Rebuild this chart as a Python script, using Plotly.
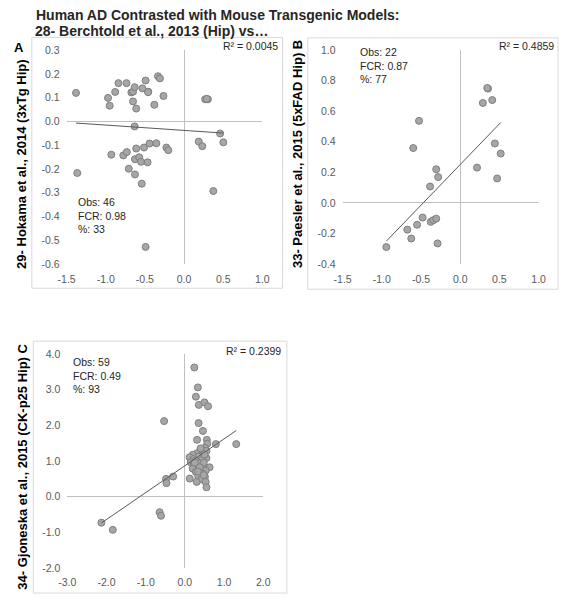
import plotly.graph_objects as go

W, H = 566, 600

# ---------------- data ----------------
a_x = [-1.380, -1.364, -0.971, -0.950, -0.929, -0.880, -0.838, -0.776, -0.735, -0.731,
       -0.706, -0.673, -0.652, -0.652, -0.631, -0.631, -0.627, -0.627, -0.611, -0.611,
       -0.573, -0.549, -0.540, -0.532, -0.511, -0.491, -0.491, -0.466, -0.457, -0.441,
       -0.379, -0.354, -0.333, -0.308, -0.263, -0.226, -0.201, 0.188, 0.233, 0.270,
       0.304, 0.374, 0.461, 0.502, 0.290, -0.460]
a_y = [0.120, -0.217, 0.099, 0.066, -0.140, 0.124, 0.161, -0.143, 0.161, -0.129,
       -0.199, 0.122, 0.125, 0.084, 0.144, -0.021, -0.159, -0.223, 0.054, -0.114,
       -0.151, -0.170, -0.262, 0.139, -0.110, 0.172, -0.528, -0.172, 0.125, -0.093,
       0.070, -0.092, 0.190, 0.181, 0.107, -0.110, -0.121, -0.085, -0.104, 0.093,
       0.093, -0.293, -0.051, -0.088, 0.095, 0.123]

b_x = [-0.942, -0.674, -0.624, -0.599, -0.550, -0.525, -0.479, -0.384, -0.376, -0.343,
       -0.306, -0.306, -0.289, -0.281, 0.215, 0.289, 0.355, 0.409, 0.442, 0.471,
       0.517, 0.345]
b_y = [-0.289, -0.175, -0.233, 0.359, -0.143, 0.537, -0.096, 0.107, -0.124, -0.113,
       -0.103, 0.220, -0.265, 0.169, 0.231, 0.654, 0.748, 0.673, 0.389, 0.160,
       0.323, 0.752]

c_x = [-2.13, -1.84, -0.645, -0.61, -0.53, -0.48, -0.47, -0.30, 0.124, 0.24,
       0.28, 0.33, 0.35, 0.355, 0.50, 0.59, 0.46, 0.31, 0.56, 0.79,
       1.31,
       0.57, 0.51, 0.45, 0.38, 0.55, 0.30, 0.20, 0.42, 0.34, 0.12,
       0.22, 0.55, 0.28, 0.45, 0.15, 0.36, 0.22, 0.46, 0.63, 0.31,
       0.20, 0.40, 0.53, 0.28, 0.45, 0.34, 0.51, 0.42, 0.30, 0.53,
       0.55, 0.40, 0.25, 0.48, 0.38, 0.50, 0.33, 0.48]
c_y = [-0.733, -0.934, -0.44, -0.54, 2.115, 0.495, 0.375, 0.56, 0.504, 3.62,
       2.80, 3.06, 2.06, 2.57, 2.64, 2.53, 1.84, 1.59, 1.59, 1.47,
       1.47,
       1.48, 1.37, 1.30, 1.26, 1.28, 1.21, 1.17, 1.15, 1.12, 1.10,
       1.05, 1.08, 1.01, 1.03, 0.96, 0.93, 0.87, 0.87, 0.82, 0.82,
       0.78, 0.75, 0.73, 0.69, 0.64, 0.57, 0.55, 0.48, 0.41, 0.41,
       0.26, 1.35, 0.95, 0.95, 0.82, 1.18, 0.70, 0.60]

# trendline coefficients (slope, intercept) as shown on the chart
a_trend = (-0.0224, -0.0378)
b_trend = (0.532, 0.251)
c_trend = (0.754, 0.864)

a_stats = ["Obs: 46", "FCR: 0.98", "%: 33"]
b_stats = ["Obs: 22", "FCR: 0.87", "%: 77"]
c_stats = ["Obs: 59", "FCR: 0.49", "%: 93"]
a_r2, b_r2, c_r2 = "R² = 0.0045", "R² = 0.4859", "R² = 0.2399"

title_lines = ["Human AD Contrasted with Mouse Transgenic Models:",
               "28- Berchtold et al., 2013 (Hip) vs…"]
a_ytitle = "29- Hokama et al., 2014 (3xTg Hip)"
b_ytitle = "33- Paesler et al., 2015 (5xFAD Hip) B"
c_ytitle = "34- Gjoneska et al., 2015 (CK-p25 Hip) C"

ab_xticks = [-1.5, -1.0, -0.5, 0.0, 0.5, 1.0]
ab_xtext = ["-1.5", "-1.0", "-0.5", "0.0", "0.5", "1.0"]
a_yticks = [-0.6, -0.5, -0.4, -0.3, -0.2, -0.1, 0.0, 0.1, 0.2, 0.3]
a_ytext = ["-0.6", "-0.5", "-0.4", "-0.3", "-0.2", "-0.1", "0.0", "0.1", "0.2", "0.3"]
b_yticks = [-0.4, -0.2, 0.0, 0.2, 0.4, 0.6, 0.8, 1.0]
b_ytext = ["-0.4", "-0.2", "0.0", "0.2", "0.4", "0.6", "0.8", "1.0"]
c_xticks = [-3, -2, -1, 0, 1, 2]
c_xtext = ["-3.0", "-2.0", "-1.0", "0.0", "1.0", "2.0"]
c_yticks = [-2, -1, 0, 1, 2, 3, 4]
c_ytext = ["-2.0", "-1.0", "0.0", "1.0", "2.0", "3.0", "4.0"]

# ---------------- style ----------------
FONT = "Liberation Sans, Arial, sans-serif"
TICK_COLOR = "#595959"
MARK_FILL = "#a6a6a6"
MARK_LINE = "#7f7f7f"
TREND_COLOR = "#595959"
ZERO_COLOR = "#bfbfbf"
FRAME_COLOR = "#d9d9d9"

def px(x):
    return x / W

def py(y):
    return 1 - y / H

fig = go.Figure()

panels = [
    dict(n="", x=a_x, y=a_y, tr=a_trend, dom_x=(59.3, 260.7), dom_y=(45, 263.3),
         xr=[-1.5, 1.0], yr=[-0.6, 0.3], xt=(ab_xticks, ab_xtext), yt=(a_yticks, a_ytext)),
    dict(n="2", x=b_x, y=b_y, tr=b_trend, dom_x=(343.3, 545), dom_y=(45, 263.3),
         xr=[-1.5, 1.0], yr=[-0.4, 1.0], xt=(ab_xticks, ab_xtext), yt=(b_yticks, b_ytext)),
    dict(n="3", x=c_x, y=c_y, tr=c_trend, dom_x=(60, 261.7), dom_y=(355, 573.3),
         xr=[-3.0, 2.0], yr=[-2.0, 4.0], xt=(c_xticks, c_xtext), yt=(c_yticks, c_ytext)),
]

for p in panels:
    xa = "x" + p["n"]
    ya = "y" + p["n"]
    fig.add_trace(go.Scatter(
        x=p["x"], y=p["y"], mode="markers", xaxis=xa, yaxis=ya,
        marker=dict(size=7, color=MARK_FILL, line=dict(color=MARK_LINE, width=1)),
        showlegend=False, hoverinfo="skip"))
    s, b = p["tr"]
    x0, x1 = min(p["x"]), max(p["x"])
    fig.add_trace(go.Scatter(
        x=[x0, x1], y=[s * x0 + b, s * x1 + b], mode="lines", xaxis=xa, yaxis=ya,
        line=dict(color=TREND_COLOR, width=1), showlegend=False, hoverinfo="skip"))
    axcommon = dict(showgrid=False, zeroline=True, zerolinecolor=ZERO_COLOR, zerolinewidth=1,
                    showline=False, ticks="", tickfont=dict(family=FONT, size=10.5, color=TICK_COLOR),
                    tickmode="array", fixedrange=True)
    fig.layout["xaxis" + p["n"]] = dict(
        axcommon, domain=[px(p["dom_x"][0]), px(p["dom_x"][1])], range=p["xr"],
        tickvals=p["xt"][0], ticktext=p["xt"][1], anchor=ya, ticklabelstandoff=7)
    fig.layout["yaxis" + p["n"]] = dict(
        axcommon, domain=[py(p["dom_y"][1]), py(p["dom_y"][0])], range=p["yr"],
        tickvals=p["yt"][0], ticktext=p["yt"][1], anchor=xa, ticklabelstandoff=6)

# panel frames
for (x0, y0, x1, y1) in [(23.5, 32, 281.5, 288), (307.5, 32.5, 565, 289), (25, 342, 286, 599)]:
    fig.add_shape(type="rect", xref="paper", yref="paper",
                  x0=px(x0), x1=px(x1), y0=py(y1), y1=py(y0),
                  line=dict(color=FRAME_COLOR, width=1), fillcolor="rgba(0,0,0,0)", layer="below")

ann = []
# main title
ann.append(dict(text="<b>%s</b>" % title_lines[0], x=px(26), y=py(-1), xanchor="left", yanchor="top",
                font=dict(family=FONT, size=14, color="#262626")))
ann.append(dict(text="<b>%s</b>" % title_lines[1], x=px(25), y=py(15), xanchor="left", yanchor="top",
                font=dict(family=FONT, size=14, color="#262626")))
# panel label A
ann.append(dict(text="<b>A</b>", x=px(3), y=py(42), xanchor="left", yanchor="middle",
                font=dict(family=FONT, size=13, color="#000000")))
# y titles
for t, cx, cy in [(a_ytitle, 13.5, 161), (b_ytitle, 297.5, 151), (c_ytitle, 13.5, 470)]:
    ann.append(dict(text="<b>%s</b>" % t, x=px(cx), y=py(cy), xanchor="center", yanchor="middle",
                    textangle=-90, font=dict(family=FONT, size=13, color="#000000")))
# stats
for lines, lx, ty in [(a_stats, 69.3, 192), (b_stats, 359.3, 39), (c_stats, 64.3, 355)]:
    ann.append(dict(text="<br>".join(lines), x=px(lx), y=py(ty), xanchor="left", yanchor="top",
                    align="left", font=dict(family=FONT, size=10.5, color="#262626")))
# R2
for t, rx, ty in [(a_r2, 278.5, 33), (b_r2, 563, 33), (c_r2, 282, 344)]:
    ann.append(dict(text=t, x=px(rx), y=py(ty), xanchor="right", yanchor="top",
                    font=dict(family=FONT, size=10.5, color="#262626")))

for a in ann:
    a.update(xref="paper", yref="paper", showarrow=False)
fig.update_layout(annotations=ann, width=W, height=H,
                  margin=dict(l=0, r=0, t=0, b=0),
                  paper_bgcolor="white", plot_bgcolor="white")

# pin the plot to the top-left corner of the page (no body margin / scrollbars)
PIN_JS = (
    "document.documentElement.style.margin='0';"
    "document.documentElement.style.overflow='hidden';"
    "document.body.style.margin='0';"
    "document.body.style.overflow='hidden';"
    "var g=document.getElementsByClassName('plotly-graph-div')[0];"
    "g.style.position='fixed';g.style.left='0px';g.style.top='0px';"
)

fig.write_html("out.html", config=dict(displayModeBar=False), post_script=PIN_JS)
